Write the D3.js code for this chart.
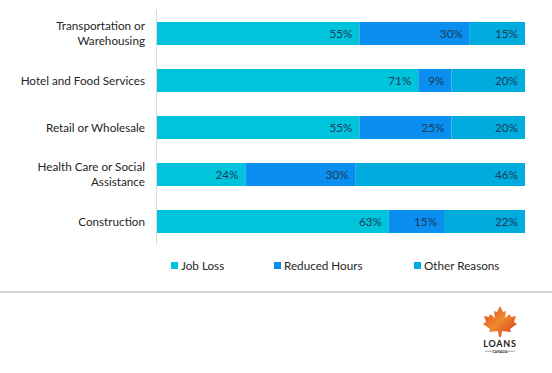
<!DOCTYPE html>
<html>
<head>
<meta charset="utf-8">
<script src="https://cdn.jsdelivr.net/npm/d3@7"></script>
<style>
  body { margin: 0; background: #fff; }
  svg { display: block; font-family: Lato, "Open Sans", sans-serif; }
</style>
</head>
<body>
<svg width="552" height="373"></svg>
<script>
const w = 552;
const h = 373;
const fs = 11.7;

var categories = ['Transportation or|Warehousing', 'Hotel and Food Services', 'Retail or Wholesale', 'Health Care or Social|Assistance', 'Construction']
var series = ['Job Loss', 'Reduced Hours', 'Other Reasons']
var jobLoss = [55, 71, 55, 24, 63]
var reducedHours = [30, 9, 25, 30, 15]
var otherReasons = [15, 20, 20, 46, 22]
var colors = ['#00c4dc', '#0a8ef0', '#00acde']

var svg = d3.select('svg')

function renderChart() {
  var x = d3.scaleLinear().domain([0, 100]).range([157, 525])
  var y = d3.scaleBand().domain(categories).range([10, 245]).paddingInner(0.51).paddingOuter(0.255)

  // build rows for the stack
  var rows = categories.map((c, i) => ({cat: c, 'Job Loss': jobLoss[i], 'Reduced Hours': reducedHours[i], 'Other Reasons': otherReasons[i]}))
  var stacked = d3.stack().keys(series)(rows)

  var groups = svg.selectAll('g.series').data(stacked).enter()
    .append('g').attr('class', 'series')
    .attr('fill', (d, i) => colors[i])

  groups.selectAll('rect').data(d => d).enter()
    .append('rect')
    .attr('x', d => x(d[0]))
    .attr('y', d => y(d.data.cat))
    .attr('width', d => x(d[1]) - x(d[0]))
    .attr('height', y.bandwidth())

  groups.selectAll('text').data(d => d).enter()
    .append('text')
    .attr('x', d => x(d[1]) - 7)
    .attr('y', d => y(d.data.cat) + y.bandwidth() / 2)
    .attr('dy', '0.35em')
    .attr('text-anchor', 'end')
    .attr('fill', '#1d3a58')
    .attr('font-size', fs)
    .text(d => (d[1] - d[0]) + '%')

  // axis line
  svg.append('line')
    .attr('x1', 156.5).attr('x2', 156.5)
    .attr('y1', 10).attr('y2', 245)
    .attr('stroke', '#d9d9d9')

  // category labels
  categories.forEach(c => {
    var lines = c.split('|')
    var cy = y(c) + y.bandwidth() / 2
    var t = svg.append('text')
      .attr('text-anchor', 'end')
      .attr('font-size', fs)
      .attr('fill', '#262626')
    lines.forEach((l, j) => {
      t.append('tspan')
        .attr('x', 145)
        .attr('y', cy + (j - (lines.length - 1) / 2) * 15)
        .attr('dy', '0.35em')
        .text(l)
    })
  })

  // legend
  var legendX = [171, 274, 414]
  series.forEach((s, i) => {
    svg.append('rect')
      .attr('x', legendX[i]).attr('y', 262)
      .attr('width', 7).attr('height', 7)
      .attr('fill', colors[i])
    svg.append('text')
      .attr('x', legendX[i] + 10).attr('y', 265.5)
      .attr('dy', '0.35em')
      .attr('font-size', fs)
      .attr('fill', '#262626')
      .text(s)
  })
}
renderChart()

// separator
svg.append('rect').attr('x', 0).attr('y', 291).attr('width', w).attr('height', 2).attr('fill', '#d4d4d4')

// logo
var defs = svg.append('defs')
var grad = defs.append('linearGradient').attr('id', 'leaf').attr('x1', 0).attr('y1', 0).attr('x2', 1).attr('y2', 1)
grad.append('stop').attr('offset', '0%').attr('stop-color', '#dd4a2a')
grad.append('stop').attr('offset', '50%').attr('stop-color', '#f08a2c')
grad.append('stop').attr('offset', '100%').attr('stop-color', '#d42c2a')

var leafPts = [[17,0],[20,6],[23,5],[22,12],[27,8],[28,11],[33,10],[31,16],[34,18],[27,23],[28,26],[19,25],[18,31],[16,31],[15,25],[6,26],[7,23],[0,18],[3,16],[1,10],[6,11],[7,8],[12,12],[11,5],[14,6]]
var logo = svg.append('g').attr('transform', 'translate(483,306)')
logo.append('path')
  .attr('d', d3.line()(leafPts) + 'Z')
  .attr('fill', 'url(#leaf)')
logo.append('text')
  .attr('x', 17).attr('y', 41)
  .attr('text-anchor', 'middle')
  .attr('font-size', 9)
  .attr('font-weight', 'bold')
  .attr('letter-spacing', 0.8)
  .attr('fill', '#1a1a1a')
  .text('LOANS')
logo.append('text')
  .attr('x', 17).attr('y', 46.5)
  .attr('text-anchor', 'middle')
  .attr('font-size', 3.5)
  .attr('font-weight', 'bold')
  .attr('fill', '#333')
  .text('CANADA')
logo.append('line').attr('x1', 2).attr('x2', 10).attr('y1', 45.3).attr('y2', 45.3).attr('stroke', '#555').attr('stroke-width', 0.5)
logo.append('line').attr('x1', 24).attr('x2', 32).attr('y1', 45.3).attr('y2', 45.3).attr('stroke', '#555').attr('stroke-width', 0.5)
</script>
</body>
</html>
